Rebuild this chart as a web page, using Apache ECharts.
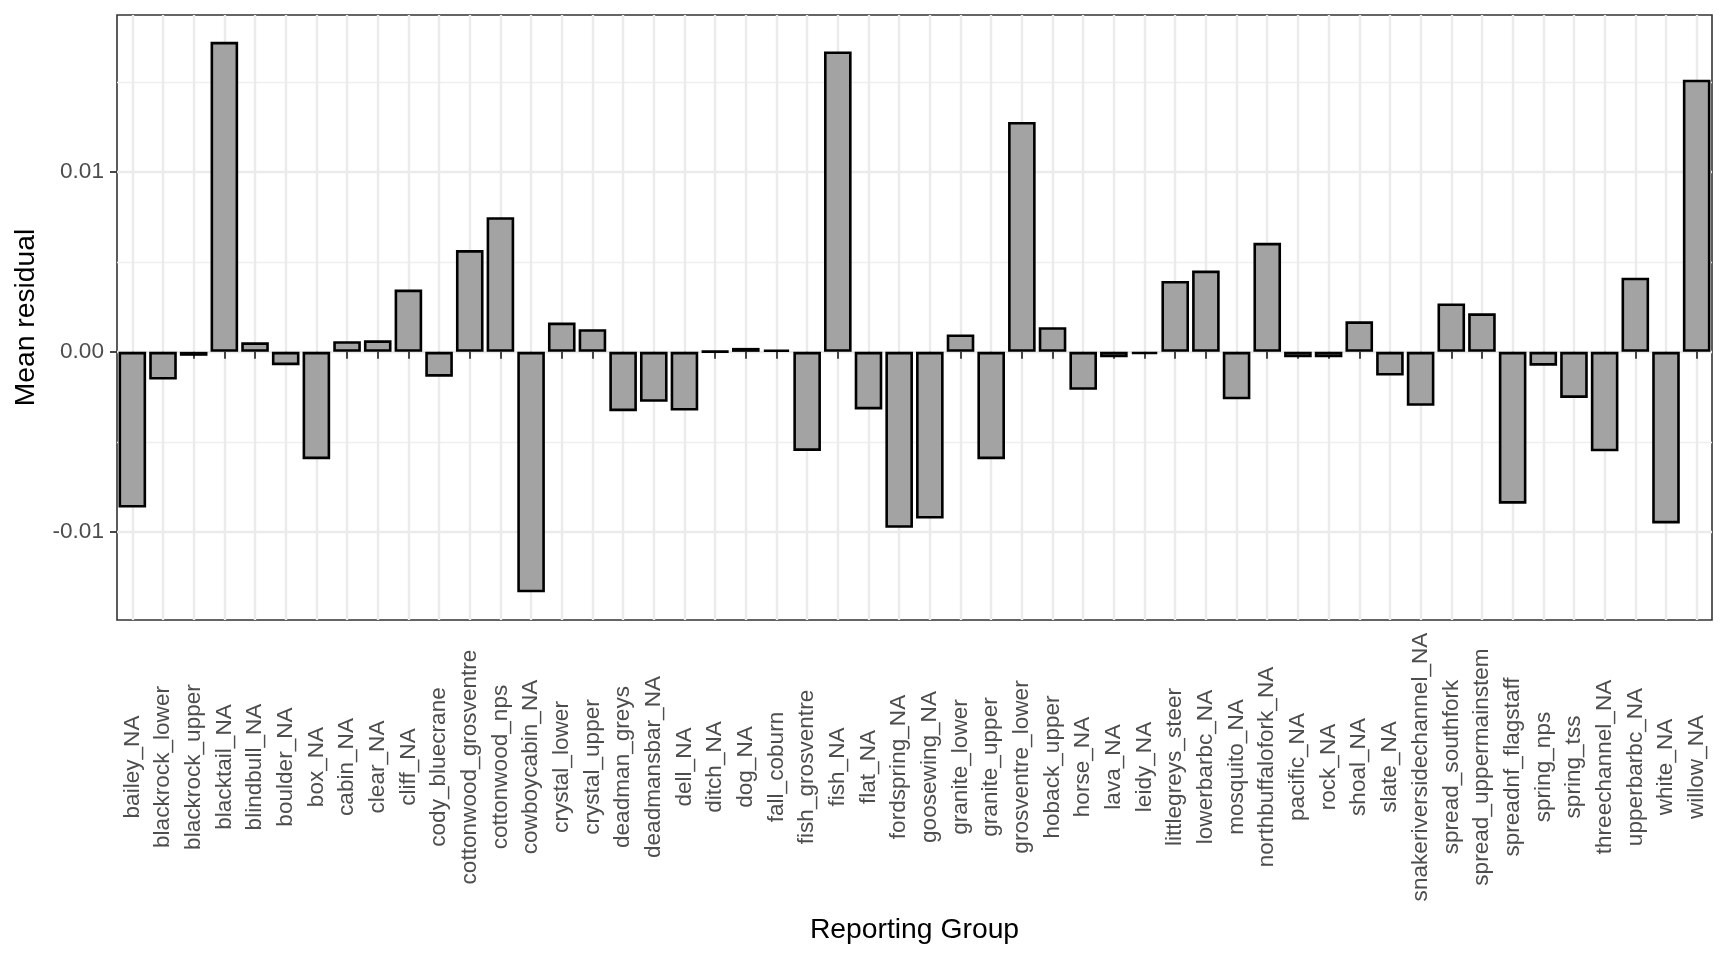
<!DOCTYPE html>
<html>
<head>
<meta charset="utf-8">
<script src="https://cdn.jsdelivr.net/npm/echarts@6/dist/echarts.min.js"></script>
<style>
  html, body { margin: 0; padding: 0; background: #ffffff; }
  #chart { width: 1728px; height: 960px; }
</style>
</head>
<body>
<div id="chart"></div>
<script>
const categories = [
  "bailey_NA", "blackrock_lower", "blackrock_upper", "blacktail_NA", "blindbull_NA",
  "boulder_NA", "box_NA", "cabin_NA", "clear_NA", "cliff_NA",
  "cody_bluecrane", "cottonwood_grosventre", "cottonwood_nps", "cowboycabin_NA", "crystal_lower",
  "crystal_upper", "deadman_greys", "deadmansbar_NA", "dell_NA", "ditch_NA",
  "dog_NA", "fall_coburn", "fish_grosventre", "fish_NA", "flat_NA",
  "fordspring_NA", "goosewing_NA", "granite_lower", "granite_upper", "grosventre_lower",
  "hoback_upper", "horse_NA", "lava_NA", "leidy_NA", "littlegreys_steer",
  "lowerbarbc_NA", "mosquito_NA", "northbuffalofork_NA", "pacific_NA", "rock_NA",
  "shoal_NA", "slate_NA", "snakeriversidechannel_NA", "spread_southfork", "spread_uppermainstem",
  "spreadnf_flagstaff", "spring_nps", "spring_tss", "threechannel_NA", "upperbarbc_NA",
  "white_NA", "willow_NA"
];

const meanResidual = [
  -0.00866, -0.00154, -0.00022, 0.01724, 0.00053,
  -0.00074, -0.00597, 0.00059, 0.00064, 0.00346,
  -0.00138, 0.00566, 0.00749, -0.01337, 0.00163,
  0.00126, -0.00330, -0.00278, -0.00326, 0.00003,
  0.00022, 0.00013, -0.00551, 0.01670, -0.00320,
  -0.00978, -0.00927, 0.00097, -0.00597, 0.01278,
  0.00137, -0.00211, -0.00030, -0.00012, 0.00394,
  0.00452, -0.00264, 0.00606, -0.00030, -0.00030,
  0.00170, -0.00132, -0.00300, 0.00269, 0.00214,
  -0.00844, -0.00077, -0.00256, -0.00553, 0.00412,
  -0.00954, 0.01513
];

const yTickValues = [-0.01, 0, 0.01];
const yTickLabels = ["-0.01", "0.00", "0.01"];

const xTitle = "Reporting Group";
const yTitle = "Mean residual";

const chart = echarts.init(document.getElementById('chart'), null, { renderer: 'canvas' });

const FONT = "Liberation Sans, Arial, Helvetica, sans-serif";

const option = {
  backgroundColor: '#ffffff',
  animation: false,
  grid: {
    left: 117, right: 16, top: 15, bottom: 340,
    show: true, borderColor: '#333333', borderWidth: 1.6, backgroundColor: 'transparent',
    containLabel: false
  },
  xAxis: {
    type: 'category',
    data: categories,
    boundaryGap: true,
    name: xTitle,
    nameLocation: 'middle',
    nameGap: 296,
    nameTextStyle: { fontFamily: FONT, fontSize: 28.3, color: '#000000' },
    axisLine: { show: false },
    axisTick: { show: true, alignWithLabel: true, length: 7, lineStyle: { color: '#333333', width: 1.8 } },
    axisLabel: {
      interval: 0, rotate: 90, align: 'center', verticalAlign: 'middle', margin: 147,
      fontFamily: FONT, fontSize: 22.6, color: '#4D4D4D'
    },
    splitLine: { show: false }
  },
  yAxis: {
    type: 'value',
    min: -0.01491,
    max: 0.01873,
    splitNumber: 3,
    name: yTitle,
    nameLocation: 'middle',
    nameRotate: 90,
    nameGap: 77,
    nameTextStyle: { fontFamily: FONT, fontSize: 28.3, color: '#000000' },
    axisLine: { show: false },
    axisTick: { show: true, length: 7, lineStyle: { color: '#333333', width: 1.8 }, customValues: yTickValues },
    axisLabel: {
      customValues: yTickValues,
      fontFamily: FONT, fontSize: 22.6, color: '#4D4D4D', margin: 13,
      formatter: function (v) {
        for (let i = 0; i < yTickValues.length; i++) {
          if (Math.abs(v - yTickValues[i]) < 1e-9) return yTickLabels[i];
        }
        return '';
      }
    },
    splitLine: { show: true, lineStyle: { color: '#EBEBEB', width: 2.4 } },
    minorTick: { show: false, splitNumber: 2 },
    minorSplitLine: { show: true, lineStyle: { color: '#EFEFEF', width: 1.3 } }
  },
  series: [
    {
      type: 'line',
      data: [],
      z: 0,
      silent: true,
      markLine: {
        z: 0,
        silent: true,
        symbol: 'none',
        label: { show: false },
        lineStyle: { color: '#EBEBEB', width: 2.4, type: 'solid' },
        emphasis: { disabled: true },
        data: categories.map(function (c) { return { xAxis: c }; })
      }
    },
    {
      type: 'bar',
      data: meanResidual,
      z: 10,
      barCategoryGap: '10%',
      itemStyle: { color: '#A3A3A3', borderColor: '#000000', borderWidth: 2.6 }
    }
  ]
};

chart.setOption(option);
</script>
</body>
</html>
